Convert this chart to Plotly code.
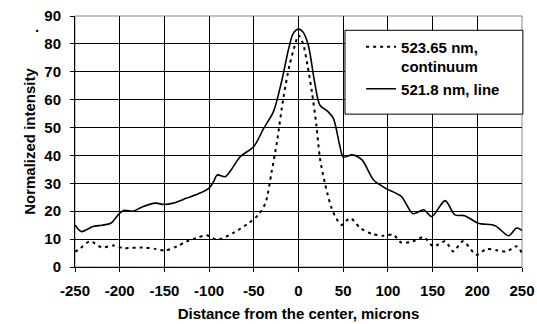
import plotly.graph_objects as go

# Continuum 523.65 nm (dotted)
x_cont = [-250, -246, -233, -220, -207, -196, -174, -160, -149, -136, -125, -114, -103, -91, -73, -56, -45,
          -37, -30, -24, -17, -10, -4, 0, 5, 10, 15, 20, 24, 30, 37, 44, 48, 58, 69, 82, 95, 106, 115,
          128, 140, 151, 164, 173, 184, 199, 210, 222, 233, 244, 250]
y_cont = [5.5, 6.2, 9.2, 7.0, 7.7, 6.8, 7.0, 6.5, 5.9, 7.4, 9.2, 10.4, 11.4, 9.8, 12.2, 15.7, 18.7,
          22.9, 34.2, 45.0, 60.5, 72.4, 79.5, 83.1, 80.1, 72.4, 62.8, 50.9, 39.0, 29.4, 21.1, 16.5, 15.1,
          17.5, 14.0, 11.9, 11.2, 11.6, 8.8, 9.2, 10.7, 7.4, 9.2, 5.6, 9.2, 4.4, 6.4, 6.0, 5.6, 7.4, 5.0]

# Line 521.8 nm (solid)
x_line = [-250, -243, -230, -220, -210, -200, -195, -185, -175, -160, -150, -140, -125, -110, -100, -95,
          -91, -82, -75, -65, -50, -39, -28, -19, -11, -6, 0, 5, 11, 18, 24, 33, 39, 46, 50, 60, 71,
          84, 97, 115, 128, 140, 149, 164, 175, 186, 201, 220, 235, 244, 250]
y_line = [15.1, 12.7, 14.5, 15.0, 15.7, 19.3, 20.3, 20.0, 21.5, 22.9, 22.4, 22.9, 24.7, 26.5, 28.3, 30.6,
          33.0, 32.4, 35.0, 39.6, 43.2, 49.7, 55.7, 66.4, 78.3, 83.7, 85.3, 84.3, 79.5, 66.4, 58.0, 55.7,
          53.3, 43.8, 39.4, 40.2, 38.4, 31.2, 28.3, 25.3, 19.1, 20.5, 18.1, 23.8, 18.7, 18.4, 15.7, 14.8,
          11.2, 14.0, 13.1]

x_ticks = [-250, -200, -150, -100, -50, 0, 50, 100, 150, 200, 250]
y_ticks = [0, 10, 20, 30, 40, 50, 60, 70, 80, 90]

FONT = "Arial, Liberation Sans, sans-serif"
BOLD = dict(family=FONT, size=15, color="black", weight="bold")

fig = go.Figure()
fig.add_trace(go.Scatter(x=x_cont, y=y_cont, mode="lines", name="523.65 nm,<br>continuum",
                         line=dict(color="black", width=2, dash="3px,4px", shape="spline", smoothing=0.8)))
fig.add_trace(go.Scatter(x=x_line, y=y_line, mode="lines", name="521.8 nm, line",
                         line=dict(color="black", width=1.6, shape="spline", smoothing=0.8)))

fig.update_layout(
    width=537, height=324,
    margin=dict(l=75, r=15, t=16, b=57),
    paper_bgcolor="white", plot_bgcolor="white",
    font=BOLD,
    showlegend=True,
    legend=dict(x=0.64, y=0.942, xanchor="left", yanchor="top",
                bgcolor="rgba(0,0,0,0)", borderwidth=0, valign="top",
                font=BOLD, itemwidth=30, tracegroupgap=0),
    xaxis=dict(range=[-250, 250], tickvals=x_ticks, ticktext=[str(v) for v in x_ticks],
               showgrid=True, gridcolor="black", gridwidth=1, zeroline=False, automargin=False,
               showline=True, linecolor="black", linewidth=1, mirror=False,
               ticks="outside", ticklen=4, tickcolor="black", ticklabelstandoff=6,
               tickfont=BOLD,
               title=dict(text="Distance from the center, microns", standoff=10, font=BOLD)),
    yaxis=dict(range=[0, 90], tickvals=y_ticks, ticktext=[str(v) for v in y_ticks],
               showgrid=True, gridcolor="black", gridwidth=1, zeroline=False, automargin=False,
               showline=True, linecolor="black", linewidth=1,
               ticks="outside", ticklen=4, tickcolor="black", ticklabelstandoff=6,
               tickfont=BOLD,
               title=dict(text="Normalized intensity", standoff=5, font=BOLD)),
)
# gray frame on top and right
fig.add_shape(type="rect", xref="paper", yref="paper", x0=0, x1=1, y0=0, y1=1,
              line=dict(color="#888888", width=1), layer="below")
# legend box
fig.add_shape(type="rect", xref="paper", yref="paper", x0=0.604, x1=1.002, y0=0.609, y1=0.943,
              line=dict(color="black", width=1), fillcolor="white", layer="above")
fig.add_annotation(text=".", xref="paper", yref="paper", x=-0.094, y=1.0,
                   showarrow=False, font=BOLD)

fig.write_html("out.html")
